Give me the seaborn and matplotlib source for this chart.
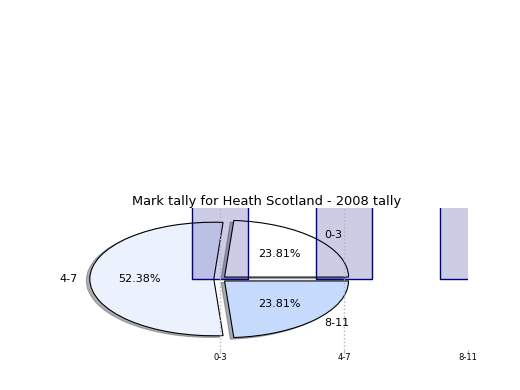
import matplotlib
matplotlib.use('Agg')
import matplotlib.pyplot as plt
import seaborn as sns

# data
intervals = ['0-3', '4-7', '8-11']
tally = [5, 11, 5]
pie_colors = ['#ffffff', '#ebf1fd', '#c6dafd']
explode = [0.05, 0.05, 0.05]

fig = plt.figure(figsize=(5.2, 3.9), dpi=100)
ax = fig.add_axes([0.125, 0.1026, 0.775, 0.364])

# pie first, the bars sit on top of it
ax.pie(tally, labels=intervals, colors=pie_colors, explode=explode,
       autopct='%1.2f%%', shadow={'shade': 0.6}, startangle=0,
       wedgeprops={'edgecolor': 'black', 'linewidth': 0.8},
       textprops={'fontsize': 8})
ax.set_aspect('auto')

sns.barplot(x=intervals, y=tally, color='navy', saturation=1, width=0.45,
            edgecolor='navy', linewidth=1, errorbar=None, legend=False, ax=ax)
for bar in ax.containers[-1]:
    bar.set_facecolor((0, 0, 0.5, 0.2))
    bar.set_edgecolor('navy')
if ax.get_legend() is not None:
    ax.get_legend().remove()

ax.set_xlim(-1.25, 2)
ax.set_ylim(-1.25, 1.25)
ax.set_xticks([0, 1, 2], intervals)
ax.set_yticks([])
ax.tick_params(axis='x', labelsize=6, color='0.7', length=2, pad=0.5)
ax.xaxis.grid(True, linestyle=':', color='0.7', linewidth=1)
# the last grid line sits on the clip edge and barely shows in the original
ax.xaxis.get_gridlines()[-1].set_visible(False)
ax.set_axisbelow(False)
ax.set_frame_on(False)

ax.set_title('Mark tally for Heath Scotland - 2008 tally', fontsize=9.4, pad=2)
ax.set_xlabel('Frequency', fontsize=8)
ax.set_ylabel('Stat Intervals', fontsize=8)

plt.savefig('out.png', dpi=100)
